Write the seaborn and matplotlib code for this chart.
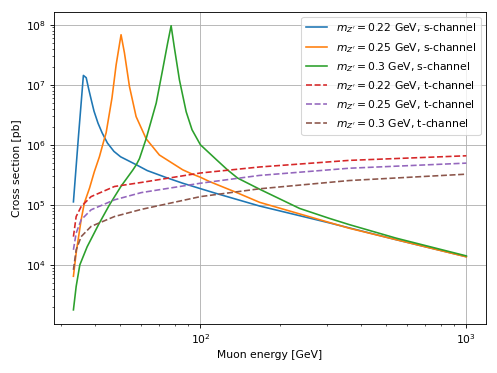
import matplotlib
matplotlib.use("Agg")
import matplotlib.pyplot as plt
import seaborn as sns

# s-channel, m_Z' = 0.22 GeV
e_s022 = [33.3, 34.8, 36.3, 37.2, 38.0, 38.9, 39.8, 41.2, 42.7, 44.7, 47.3, 50.1, 57.4, 63.1,
          74.3, 85.8, 100, 114.5, 167, 305, 544, 1000]
s_s022 = [1.12e5, 1.41e6, 1.43e7, 1.31e7, 8.51e6, 5.50e6, 3.63e6, 2.29e6, 1.58e6, 1.07e6,
          7.76e5, 6.31e5, 4.65e5, 3.72e5, 2.85e5, 2.29e5, 1.86e5, 1.55e5, 9.55e4, 5.01e4,
          2.63e4, 1.37e4]

# s-channel, m_Z' = 0.25 GeV
e_s025 = [33.3, 34.1, 35.6, 36.6, 38.3, 39.9, 41.7, 43.4, 44.2, 46.5, 48.2, 50.3, 51.8, 54.1,
          57.3, 62.5, 70.1, 85.8, 92.3, 100, 108, 136, 167, 363, 544, 1000]
s_s025 = [6.46e3, 1.58e4, 5.62e4, 1.07e5, 1.91e5, 3.55e5, 6.31e5, 1.20e6, 1.58e6, 6.03e6,
          2.14e7, 6.81e7, 3.39e7, 9.33e6, 2.95e6, 1.26e6, 6.76e5, 3.83e5, 3.31e5, 2.88e5,
          2.45e5, 1.62e5, 1.10e5, 4.07e4, 2.63e4, 1.36e4]

# s-channel, m_Z' = 0.3 GeV
e_s030 = [33.3, 34.1, 35.2, 37.5, 41.5, 45.5, 50.3, 55.7, 57.4, 59, 62.5, 68.2, 72.1, 75.3,
          77.6, 79.8, 83.4, 88.4, 93, 100, 115, 126.6, 138, 167, 236, 305, 363, 544, 1000]
s_s030 = [1.78e3, 4.37e3, 1.0e4, 2.0e4, 4.79e4, 1.0e5, 2.04e5, 3.80e5, 4.65e5, 5.89e5,
          1.26e6, 4.95e6, 1.78e7, 4.95e7, 9.62e7, 4.17e7, 1.20e7, 3.55e6, 1.78e6, 1.0e6,
          5.62e5, 3.80e5, 2.79e5, 1.82e5, 8.71e4, 5.96e4, 4.68e4, 2.79e4, 1.41e4]

# t-channel
e_t = [33.3, 34.1, 35.6, 38.8, 47.5, 60, 100, 167, 363, 1000]
s_t022 = [2.95e4, 6.38e4, 9.33e4, 1.37e5, 2.02e5, 2.36e5, 3.39e5, 4.27e5, 5.50e5, 6.56e5]
s_t025 = [1.78e4, 3.39e4, 5.62e4, 8.26e4, 1.21e5, 1.60e5, 2.29e5, 3.09e5, 4.07e5, 4.95e5]
s_t030 = [8.26e3, 1.78e4, 2.95e4, 4.37e4, 6.38e4, 8.40e4, 1.37e5, 1.85e5, 2.54e5, 3.24e5]

labels = [r"$m_{Z'} = 0.22$ GeV, s-channel",
          r"$m_{Z'} = 0.25$ GeV, s-channel",
          r"$m_{Z'} = 0.3$ GeV, s-channel",
          r"$m_{Z'} = 0.22$ GeV, t-channel",
          r"$m_{Z'} = 0.25$ GeV, t-channel",
          r"$m_{Z'} = 0.3$ GeV, t-channel"]

series = [(e_s022, s_s022, "C0", "-"),
          (e_s025, s_s025, "C1", "-"),
          (e_s030, s_s030, "C2", "-"),
          (e_t, s_t022, "C3", "--"),
          (e_t, s_t025, "C4", "--"),
          (e_t, s_t030, "C5", "--")]

fig, ax = plt.subplots(figsize=(6.4, 4.8), dpi=77.8)
for (x, y, c, ls), lab in zip(series, labels):
    sns.lineplot(x=x, y=y, ax=ax, color=c, linestyle=ls, label=lab, linewidth=1.5)

ax.set_xscale("log")
ax.set_yscale("log")
ax.grid(True, which="major")
ax.set_xlabel("Muon energy [GeV]")
ax.set_ylabel("Cross section [pb]")
ax.legend(loc="upper right")
fig.subplots_adjust(left=0.108, right=0.976, bottom=0.131, top=0.968)
fig.savefig("out.png", dpi=77.8)
